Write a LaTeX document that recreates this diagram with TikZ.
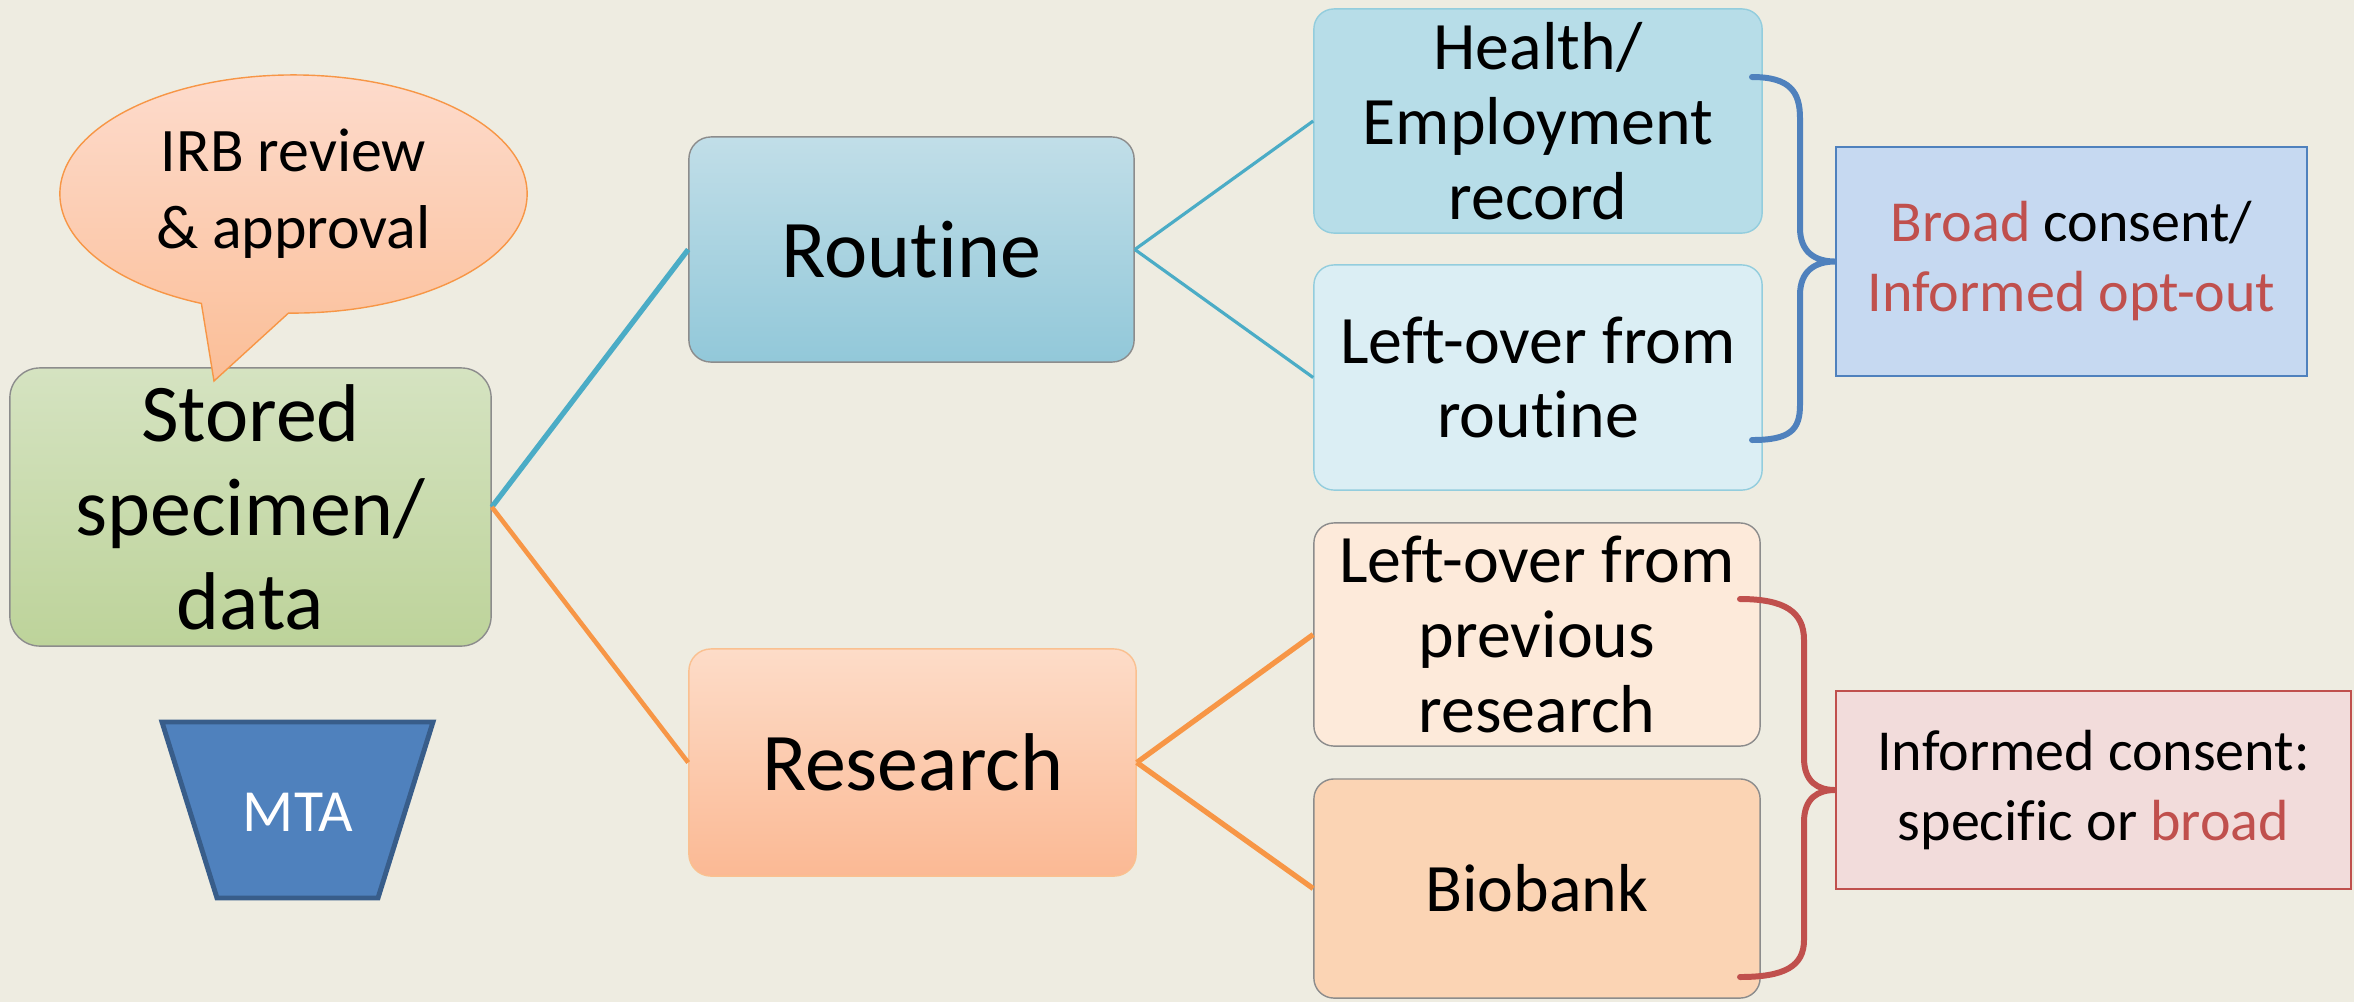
\documentclass[tikz,border=0pt]{standalone}
\usepackage{fontspec}
\setmainfont{Carlito}[Ligatures={NoCommon}]
\usetikzlibrary{shapes.callouts}
\definecolor{bgtan}{HTML}{EEECE1}
\definecolor{txtred}{HTML}{C0504D}
\definecolor{aqua}{HTML}{4BACC6}
\definecolor{orng}{HTML}{F79646}
\definecolor{steel}{HTML}{4F81BD}
\definecolor{steeldark}{HTML}{385D8A}
\definecolor{boxgrey}{HTML}{8C8C8C}
\definecolor{greentop}{HTML}{D5E3C1}
\definecolor{greenbot}{HTML}{BDD39A}
\definecolor{routinetop}{HTML}{C1DEE8}
\definecolor{routinebot}{HTML}{92C8D9}
\definecolor{researchtop}{HTML}{FDDCC8}
\definecolor{researchbot}{HTML}{FBB994}
\definecolor{researchedge}{HTML}{FAC090}
\definecolor{healthfill}{HTML}{B7DDE8}
\definecolor{leftrfill}{HTML}{DBEEF4}
\definecolor{aquaedge}{HTML}{93CDDD}
\definecolor{leftpfill}{HTML}{FDEADA}
\definecolor{biobankfill}{HTML}{FBD4B4}
\definecolor{broadfill}{HTML}{C6D9F1}
\definecolor{informedfill}{HTML}{F2DCDB}
\definecolor{irbtop}{HTML}{FDDBCC}
\definecolor{irbbot}{HTML}{FBBE97}
\tikzset{
  box/.style={rectangle, rounded corners=0.22cm, inner sep=0pt, align=center, draw=boxgrey, line width=0.4pt},
  bigtext/.style={font=\fontsize{23.3pt}{26.7pt}\selectfont},
  midtext/.style={font=\fontsize{19.3pt}{21.3pt}\selectfont},
  consentbox/.style={rectangle, inner sep=0pt, align=center, line width=0.5pt, font=\fontsize{16.5pt}{19.9pt}\selectfont},
  aqualine/.style={draw=aqua},
  orangeline/.style={draw=orng},
  bracket/.style={line width=1.7pt, line cap=round}
}
\begin{document}
\begin{tikzpicture}[x=0.01cm,y=-0.01cm]
\useasboundingbox (0,0) rectangle (2354,1002);
\fill[bgtan] (0,0) rectangle (2354,1002);

\node (stored) [box, bigtext, top color=greentop, bottom color=greenbot, minimum width=4.81cm, minimum height=2.78cm, rounded corners=0.3cm] at (250.5,507) {Stored\\specimen/\\data};
\node (routine) [box, bigtext, top color=routinetop, bottom color=routinebot, minimum width=4.45cm, minimum height=2.25cm] at (911.5,249.5) {Routine};
\node (research) [box, bigtext, top color=researchtop, bottom color=researchbot, draw=researchedge, minimum width=4.47cm, minimum height=2.27cm] at (912.5,762.5) {Research};

\node (health) [box, midtext, fill=healthfill, draw=aquaedge, minimum width=4.48cm, minimum height=2.24cm, rounded corners=0.2cm] at (1538,121) {Health/\\Employment\\record};
\node (leftr) [box, midtext, fill=leftrfill, draw=aquaedge, minimum width=4.48cm, minimum height=2.25cm, rounded corners=0.2cm] at (1538,377.5) {Left-over from\\routine};
\node (leftp) [box, midtext, fill=leftpfill, minimum width=4.46cm, minimum height=2.23cm, rounded corners=0.2cm] at (1537,634.5) {Left-over from\\previous\\research};
\node (biobank) [box, midtext, fill=biobankfill, minimum width=4.46cm, minimum height=2.19cm, rounded corners=0.2cm] at (1537,888.5) {Biobank};

\node (broad) [consentbox, fill=broadfill, draw=steel, minimum width=4.71cm, minimum height=2.29cm] at (2071.5,261.5) {{\color{txtred}Broad} consent/\\{\color{txtred}Informed opt-out}};
\node (informed) [consentbox, fill=informedfill, draw=txtred, minimum width=5.15cm, minimum height=1.98cm] at (2093.5,790) {Informed consent:\\specific or {\color{txtred}broad}};

\node (irb) [ellipse callout, callout absolute pointer={(214,381)}, callout pointer arc=22, draw=orng, line width=0.4pt, top color=irbtop, bottom color=irbbot, minimum width=4.67cm, minimum height=2.38cm, inner sep=0pt, align=center, font=\fontsize{17.6pt}{21.8pt}\selectfont] at (293.5,194) {IRB review\\\& approval};

\draw[fill=steel, draw=steeldark, line width=1.4pt] (162,722) -- (433,722) -- (378,898) -- (217,898) -- cycle;
\node (mta) [text=white, font=\fontsize{17pt}{20pt}\selectfont] at (298,812) {MTA};

\draw[aqualine, line width=1.5pt] (stored.east) -- (routine.west);
\draw[orangeline, line width=1.3pt] (stored.east) -- (research.west);
\draw[aqualine, line width=0.9pt] (routine.east) -- (health.west);
\draw[aqualine, line width=0.9pt] (routine.east) -- (leftr.west);
\draw[orangeline, line width=1.5pt] (research.east) -- (leftp.west);
\draw[orangeline, line width=1.5pt] (research.east) -- (biobank.west);

\coordinate (bluetop) at (1752,77);
\coordinate (bluebot) at (1752,440);
\coordinate (redtop) at (1740,599);
\coordinate (redbot) at (1740,977);
\draw[bracket, draw=steel] (bluetop) .. controls (1790,77) and (1800,92) .. (1800,118) -- (1800,228) .. controls (1800,252) and (1815,261.5) .. (broad.west) .. controls (1815,261.5) and (1800,271) .. (1800,295) -- (1800,405) .. controls (1800,430) and (1790,440) .. (bluebot);
\draw[bracket, draw=txtred] (redtop) .. controls (1785,599) and (1804,612) .. (1804,640) -- (1804,758) .. controls (1804,782) and (1818,790) .. (informed.west) .. controls (1818,790) and (1804,798) .. (1804,822) -- (1804,940) .. controls (1804,966) and (1785,977) .. (redbot);
\end{tikzpicture}
\end{document}
